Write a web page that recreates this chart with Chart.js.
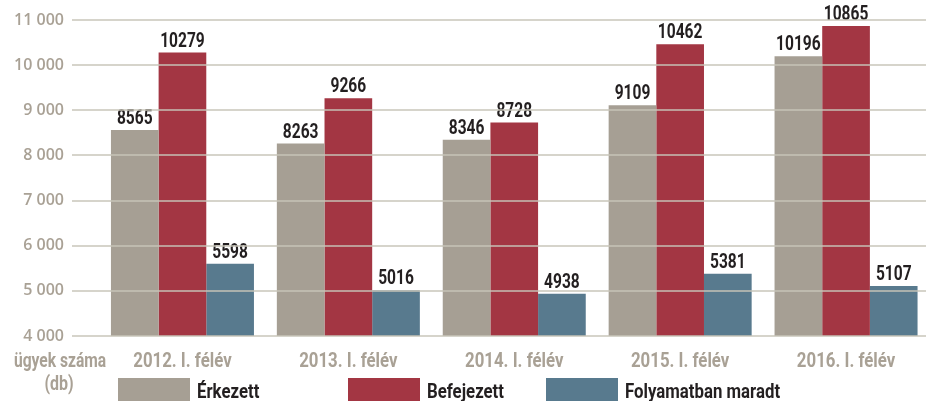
<!DOCTYPE html>
<html>
<head>
<meta charset="utf-8">
<script src="https://cdn.jsdelivr.net/npm/chart.js@4"></script>
<style>
  html, body { margin: 0; padding: 0; background: #fff; overflow: hidden; }
  #wrap { position: relative; width: 929px; height: 401px; }
</style>
</head>
<body>
<div id="wrap"><canvas id="chart"></canvas></div>
<script>
// Data
const categories = ['2012. I. félév', '2013. I. félév', '2014. I. félév', '2015. I. félév', '2016. I. félév'];
const erkezett = [8565, 8263, 8346, 9109, 10196];
const befejezett = [10279, 9266, 8728, 10462, 10865];
const folyamatban = [5598, 5016, 4938, 5381, 5107];
const seriesNames = ['Érkezett', 'Befejezett', 'Folyamatban maradt'];
const axisTitle = ['ügyek száma', '(db)'];

const colors = ['#a69f94', '#a33643', '#587a8e'];
const labelGray = '#a9a195';
const legendX = [118, 348, 546];

// no condensed font installed, so squeeze Roboto bold sideways
function narrowText(c, text, x, y, size, align, squeeze) {
    c.save();
    c.font = 'bold ' + size + 'px Roboto, sans-serif';
    c.textAlign = align;
    c.translate(x, y);
    c.scale(squeeze, 1);
    c.fillText(text, 0, 0);
    c.restore();
}

// value labels above the bars
const valueLabels = {
    id: 'valueLabels',
    afterDatasetsDraw(chart) {
        const c = chart.ctx;
        c.save();
        c.fillStyle = '#231f20';
        c.textBaseline = 'alphabetic';
        chart.data.datasets.forEach((ds, i) => {
            chart.getDatasetMeta(i).data.forEach((bar, j) => {
                narrowText(c, String(ds.data[j]), bar.x, bar.y - 6, 21, 'center', 0.74);
            });
        });
        c.restore();
    }
};

// category labels, axis title and legend
const extras = {
    id: 'extras',
    afterDraw(chart) {
        const c = chart.ctx;
        const xs = chart.scales.x;
        c.save();
        c.textBaseline = 'alphabetic';
        c.fillStyle = labelGray;
        categories.forEach((cat, i) => {
            narrowText(c, cat, xs.getPixelForTick(i), 367, 20, 'center', 0.84);
        });
        narrowText(c, axisTitle[0], 60, 367, 20, 'center', 0.78);
        narrowText(c, axisTitle[1], 59, 390, 20, 'center', 0.8);

        chart.data.datasets.forEach((ds, i) => {
            c.fillStyle = ds.backgroundColor;
            c.fillRect(legendX[i], 378, 72, 23);
            c.fillStyle = '#231f20';
            narrowText(c, ds.label, legendX[i] + 79, 398, 20, 'left', 0.84);
        });
        c.restore();
    }
};

const ctx = document.getElementById('chart').getContext('2d');

const chart = new Chart(ctx, {
    type: 'bar',
    data: {
        labels: categories,
        datasets: [
            { label: seriesNames[0], data: erkezett, backgroundColor: colors[0] },
            { label: seriesNames[1], data: befejezett, backgroundColor: colors[1] },
            { label: seriesNames[2], data: folyamatban, backgroundColor: colors[2] }
        ]
    },
    options: {
        responsive: true,
        maintainAspectRatio: false,
        animation: false,
        layout: {
            padding: { top: 20, bottom: 0, left: 0, right: 0 }
        },
        datasets: {
            bar: {
                categoryPercentage: 0.862,
                barPercentage: 1.0,
                borderWidth: 0
            }
        },
        plugins: {
            legend: { display: false },
            tooltip: { enabled: false }
        },
        scales: {
            x: {
                afterFit(scale) { scale.height = 65; },
                grid: { display: false },
                border: { display: false },
                ticks: { display: false }
            },
            y: {
                min: 4000,
                max: 11000,
                afterFit(scale) { scale.width = 99.5; },
                grid: {
                    color: 'rgba(199,196,184,0.73)',
                    lineWidth: 2,
                    tickLength: 27.5,
                    z: 1
                },
                border: { display: false },
                ticks: {
                    stepSize: 1000,
                    padding: 8,
                    color: labelGray,
                    font: { family: '"Open Sans", sans-serif', size: 16, weight: 600 },
                    callback: (v) => String(v).replace(/\B(?=(\d{3})+(?!\d))/g, ' ')
                }
            }
        }
    },
    plugins: [valueLabels, extras]
});
</script>
</body>
</html>
